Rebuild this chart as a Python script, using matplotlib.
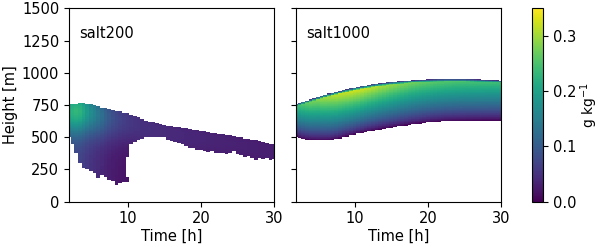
import numpy as np
import matplotlib
matplotlib.use("Agg")
import matplotlib.pyplot as plt

# ---------------- data ----------------
times = [2.0 + 0.5 * i for i in range(57)]  # hours, 2 .. 30

# salt200: cloud top / bottom height [m] and column peak value [g/kg]
top200 = [758, 760, 762, 763, 763, 760, 755, 748, 740, 732, 725, 718, 711, 704, 698, 691,
          685, 675, 664, 653, 642, 631, 622, 615, 608, 602, 597, 592, 587, 582, 578, 573,
          569, 564, 560, 555, 551, 546, 541, 537, 532, 527, 523, 518, 513, 509, 504, 498,
          492, 486, 480, 474, 468, 462, 457, 451, 445]
bot200 = [500, 450, 375, 300, 265, 250, 235, 225, 185, 205, 195, 170, 160, 130, 145, 150,
          148, 450, 460, 475, 490, 500, 505, 500, 505, 500, 505, 480, 470, 460, 455, 445,
          435, 420, 415, 400, 400, 390, 385, 390, 380, 375, 380, 370, 380, 390, 370, 365,
          350, 355, 340, 325, 340, 335, 340, 325, 330]
peak200 = [0.21, 0.225, 0.23, 0.225, 0.21, 0.19, 0.17, 0.155, 0.14, 0.125, 0.11, 0.097, 0.085,
           0.077, 0.07, 0.064, 0.06, 0.056, 0.053, 0.051, 0.049, 0.048, 0.047, 0.046,
           0.045, 0.044, 0.043, 0.042, 0.041, 0.040, 0.040, 0.039, 0.038, 0.038, 0.037,
           0.037, 0.036, 0.036, 0.035, 0.035, 0.034, 0.034, 0.034, 0.033, 0.033, 0.033,
           0.032, 0.032, 0.032, 0.031, 0.031, 0.031, 0.030, 0.030, 0.030, 0.030, 0.030]
gap200_time = 10.0          # missing data segment in one column
gap200_range = (195, 350)

# salt1000
top1000 = [758, 766, 775, 784, 794, 804, 813, 822, 830, 838, 845, 852, 860, 867, 873, 879,
           885, 890, 896, 901, 905, 910, 914, 918, 921, 924, 927, 930, 933, 935, 938, 941,
           943, 945, 946, 947, 948, 949, 950, 951, 951, 952, 952, 952, 952, 952, 952, 951,
           950, 949, 948, 947, 946, 945, 944, 943, 942]
bot1000 = [506, 494, 486, 481, 478, 477, 476, 476, 476, 477, 480, 485, 492, 500, 507, 515,
           522, 529, 535, 541, 547, 552, 557, 562, 567, 571, 575, 580, 584, 588, 592, 596,
           600, 604, 607, 610, 614, 617, 619, 621, 623, 624, 625, 626, 626, 627, 627, 628,
           628, 629, 629, 630, 630, 630, 630, 630, 630]
peak1000 = [0.25, 0.26, 0.27, 0.28, 0.29, 0.295, 0.30, 0.31, 0.315, 0.32, 0.325, 0.33, 0.333,
            0.336, 0.338, 0.34, 0.34, 0.34, 0.338, 0.335, 0.332, 0.328, 0.324, 0.32, 0.316,
            0.312, 0.308, 0.304, 0.30, 0.297, 0.294, 0.29, 0.287, 0.284, 0.281, 0.279, 0.277,
            0.275, 0.273, 0.271, 0.27, 0.268, 0.267, 0.265, 0.264, 0.263, 0.262, 0.261, 0.26,
            0.259, 0.258, 0.257, 0.256, 0.255, 0.254, 0.253, 0.252]

titles = ["salt200", "salt1000"]
yticks = [0, 250, 500, 750, 1000, 1250, 1500]
xticks = [10, 20, 30]
vmin, vmax = 0.0, 0.35

# ---------------- build fields ----------------
t = np.array(times)
dz = 5.0
z_edges = np.arange(0, 1500 + dz, dz)
zc = 0.5 * (z_edges[:-1] + z_edges[1:])
t_edges = np.concatenate([[t[0] - 0.25], t + 0.25])


def field200():
    F = np.full((len(zc), len(t)), np.nan)
    for j in range(len(t)):
        top, bot, pk = top200[j], bot200[j], peak200[j]
        m = (zc >= bot) & (zc <= top)
        zpk = top - 60
        prof = 0.3 + 0.7 * np.exp(-((zc - zpk) / 180.0) ** 2)
        F[m, j] = pk * prof[m]
        if abs(t[j] - gap200_time) < 1e-6:
            g = (zc > gap200_range[0]) & (zc < gap200_range[1])
            F[g, j] = np.nan
    return np.ma.masked_invalid(F)


def field1000():
    F = np.full((len(zc), len(t)), np.nan)
    for j in range(len(t)):
        top, bot, pk = top1000[j], bot1000[j], peak1000[j]
        m = (zc >= bot) & (zc <= top)
        s = (zc - bot) / (top - bot)
        prof = np.clip(s, 0, 1) ** 0.8
        cap = np.clip((1.0 - s) / 0.06, 0, 1)
        prof = prof * (0.15 + 0.85 * cap)
        F[m, j] = pk * prof[m]
    return np.ma.masked_invalid(F)


fields = [field200(), field1000()]

# ---------------- plot ----------------
plt.rcParams['font.family'] = ['DejaVu Sans']
fig = plt.figure(figsize=(6.0, 2.47), dpi=100)
ax1 = fig.add_axes([0.115, 0.1834, 0.342, 0.7826])
ax2 = fig.add_axes([0.4933, 0.1834, 0.342, 0.7826])
cax = fig.add_axes([0.887, 0.1834, 0.0185, 0.7826])

fs = 10.5
for k, ax in enumerate([ax1, ax2]):
    pc = ax.pcolormesh(t_edges, z_edges, fields[k], cmap='viridis', vmin=vmin, vmax=vmax,
                       shading='flat', rasterized=True)
    ax.set_xlim(2, 30)
    ax.set_ylim(0, 1500)
    ax.set_xticks(xticks)
    ax.set_yticks(yticks)
    ax.tick_params(labelsize=fs)
    ax.set_xlabel("Time [h]", fontsize=fs, labelpad=2)
    ax.text(0.05, 0.87, titles[k], transform=ax.transAxes, fontsize=fs, va='center', ha='left')
ax1.set_ylabel("Height [m]", fontsize=fs, labelpad=3)
ax2.tick_params(labelleft=False)

cb = fig.colorbar(pc, cax=cax)
cb.set_ticks([0.0, 0.1, 0.2, 0.3])
cb.ax.tick_params(labelsize=fs)
cb.set_label("g kg$^{-1}$", fontsize=10, labelpad=1)

fig.savefig("out.png", dpi=100)
